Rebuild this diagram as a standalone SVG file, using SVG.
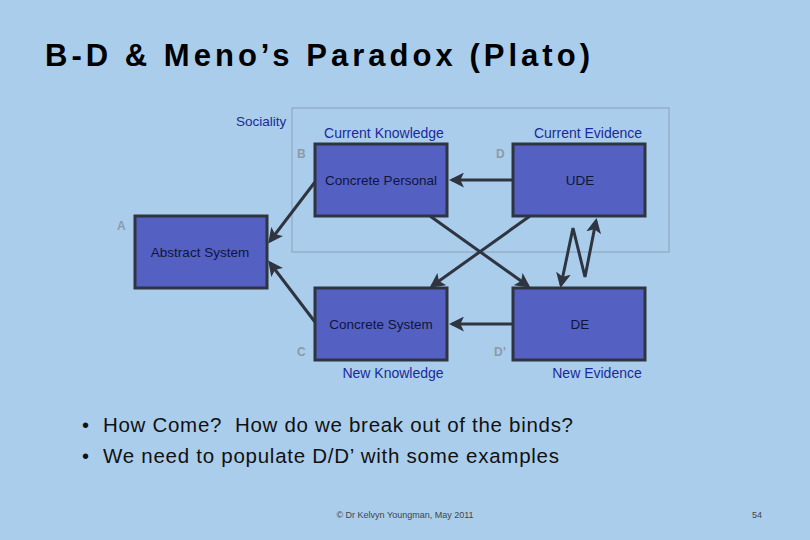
<svg xmlns="http://www.w3.org/2000/svg" width="810" height="540" viewBox="0 0 810 540">
<style>
text{font-family:"Liberation Sans",Arial,sans-serif}
.box{fill:#5460c2;stroke:#2e3540;stroke-width:3}
.lbl{font-size:13.5px;fill:#10163a;text-anchor:middle}
.cap{font-size:14px;fill:#1a2a9a;text-anchor:middle}
.let{font-size:12px;fill:#8a9aaa;font-weight:bold}
.con{stroke:#2e3540;stroke-width:3;fill:none}
</style>
<defs><marker id="ah" markerWidth="5" markerHeight="5" refX="4" refY="2.5" orient="auto-start-reverse" markerUnits="strokeWidth"><path d="M0,0L5,2.5L0,5L1.2,2.5z" fill="#2e3540"/></marker></defs>
<rect width="810" height="540" fill="#abcdec"/>
<text x="45" y="66" font-size="31" font-weight="bold" fill="#000" textLength="545" lengthAdjust="spacing">B-D &amp; Meno’s Paradox (Plato)</text>
<rect x="292" y="108" width="377" height="144" fill="none" stroke="#8aa0b8" stroke-width="1"/>
<text x="236" y="126" font-size="13.5" fill="#1a2a9a">Sociality</text>
<text x="384" y="138" class="cap">Current Knowledge</text>
<text x="588" y="138" class="cap">Current Evidence</text>
<text x="393" y="378" class="cap">New Knowledge</text>
<text x="597" y="378" class="cap">New Evidence</text>
<text x="297" y="158" class="let">B</text>
<text x="496" y="158" class="let">D</text>
<text x="117" y="230" class="let">A</text>
<text x="297" y="356" class="let">C</text>
<text x="494" y="356" class="let">D’</text>
<g id="cp"><rect class="box" x="315" y="144" width="132" height="72"/><text class="lbl" x="381" y="185">Concrete Personal</text></g>
<g id="ude"><rect class="box" x="513" y="144" width="132" height="72"/><text class="lbl" x="580" y="185">UDE</text></g>
<g id="as"><rect class="box" x="135" y="216" width="132" height="72"/><text class="lbl" x="200" y="257">Abstract System</text></g>
<g id="cs"><rect class="box" x="315" y="288" width="132" height="72"/><text class="lbl" x="381" y="329">Concrete System</text></g>
<g id="de"><rect class="box" x="513" y="288" width="132" height="72"/><text class="lbl" x="580" y="329">DE</text></g>
<g id="connectors">
<line class="con" x1="513" y1="180" x2="452" y2="180" marker-end="url(#ah)"/>
<line class="con" x1="513" y1="324" x2="452" y2="324" marker-end="url(#ah)"/>
<line class="con" x1="315" y1="182" x2="270" y2="241" marker-end="url(#ah)"/>
<line class="con" x1="315" y1="322" x2="270" y2="263" marker-end="url(#ah)"/>
<line class="con" x1="430" y1="216" x2="528" y2="286" marker-end="url(#ah)"/>
<line class="con" x1="530" y1="216" x2="432" y2="286" marker-end="url(#ah)"/>
<polyline class="con" points="561,285 573,228 585,277 596,221" marker-start="url(#ah)" marker-end="url(#ah)"/>
</g>
<text x="82" y="432" font-size="20" fill="#111">•</text>
<text x="103" y="432" font-size="20.5" fill="#111" textLength="470" lengthAdjust="spacing" xml:space="preserve">How Come?  How do we break out of the binds?</text>
<text x="82" y="463" font-size="20" fill="#111">•</text>
<text x="103" y="463" font-size="20.5" fill="#111" textLength="456" lengthAdjust="spacing">We need to populate D/D’ with some examples</text>
<text x="405" y="518" font-size="9" fill="#444" text-anchor="middle">© Dr Kelvyn Youngman, May 2011</text>
<text x="757" y="518" font-size="9" fill="#444" text-anchor="middle">54</text>
</svg>
